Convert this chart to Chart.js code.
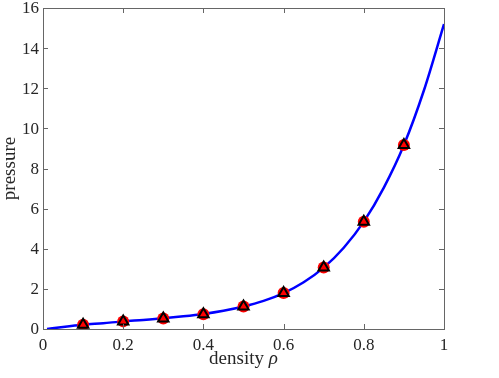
<!DOCTYPE html>
<html lang="en">
<head>
    <meta charset="UTF-8">
    <title>pressure vs density</title>
    <script src="https://cdn.jsdelivr.net/npm/chart.js"></script>
    <style>
        html, body { margin: 0; padding: 0; background: #fff; }
        #wrap { width: 499px; height: 378px; }
    </style>
</head>
<body>
    <div id="wrap"><canvas id="myChart"></canvas></div>

    <script>
        // curve
        const curveRho = [0.01, 0.05, 0.1, 0.15, 0.2, 0.25, 0.3, 0.35, 0.4, 0.45, 0.5, 0.55, 0.6, 0.65, 0.7, 0.75, 0.8, 0.85, 0.9, 0.95, 1.0];
        const curveP = [0.0, 0.1, 0.21, 0.29, 0.38, 0.45, 0.53, 0.63, 0.75, 0.91, 1.12, 1.4, 1.79, 2.33, 3.06, 4.05, 5.35, 7.05, 9.17, 11.9, 15.2];

        // sampled points (red circles + black triangles)
        const sampleRho = [0.1, 0.2, 0.3, 0.4, 0.5, 0.6, 0.7, 0.8, 0.9];
        const sampleP = [0.21, 0.38, 0.52, 0.74, 1.12, 1.79, 3.06, 5.35, 9.17];

        const xTicks = [0, 0.2, 0.4, 0.6, 0.8, 1];
        const yTicks = [0, 2, 4, 6, 8, 10, 12, 14, 16];

        const serif = '"Liberation Serif", "DejaVu Serif", serif';
        const textColor = '#262626';
        const axisColor = '#666';

        const toXY = (xs, ys) => xs.map((x, i) => ({ x: x, y: ys[i] }));

        // box round the plot, inward ticks on all four sides, tick labels and titles
        const boxPlugin = {
            id: 'box',
            afterDraw(chart) {
                const ctx = chart.ctx;
                const a = chart.chartArea;
                const sx = chart.scales.x, sy = chart.scales.y;
                ctx.save();
                ctx.strokeStyle = axisColor;
                ctx.lineWidth = 1;
                ctx.strokeRect(a.left + 0.5, a.top + 0.5, a.right - a.left, a.bottom - a.top);
                ctx.beginPath();
                xTicks.forEach(v => {
                    const px = Math.round(sx.getPixelForValue(v)) + 0.5;
                    ctx.moveTo(px, a.bottom); ctx.lineTo(px, a.bottom - 5);
                    ctx.moveTo(px, a.top); ctx.lineTo(px, a.top + 5);
                });
                yTicks.forEach(v => {
                    const py = Math.round(sy.getPixelForValue(v)) + 0.5;
                    ctx.moveTo(a.left, py); ctx.lineTo(a.left + 5, py);
                    ctx.moveTo(a.right, py); ctx.lineTo(a.right - 5, py);
                });
                ctx.stroke();

                // tick labels
                ctx.fillStyle = textColor;
                ctx.font = '17px ' + serif;
                ctx.textBaseline = 'middle';
                ctx.textAlign = 'center';
                xTicks.forEach(v => ctx.fillText(String(v), sx.getPixelForValue(v), a.bottom + 17));
                ctx.textAlign = 'right';
                yTicks.forEach(v => ctx.fillText(String(v), a.left - 4, sy.getPixelForValue(v) + 1));

                // axis titles
                ctx.textBaseline = 'alphabetic';
                ctx.font = '19px ' + serif;
                const w1 = ctx.measureText('density ').width;
                ctx.font = 'italic 19px ' + serif;
                const w2 = ctx.measureText('\u03c1').width;
                let x0 = (a.left + a.right) / 2 - (w1 + w2) / 2;
                ctx.font = '19px ' + serif;
                ctx.textAlign = 'left';
                ctx.fillText('density ', x0, 364);
                ctx.font = 'italic 19px ' + serif;
                ctx.fillText('\u03c1', x0 + w1, 364);

                ctx.translate(15, (a.top + a.bottom) / 2);
                ctx.rotate(-Math.PI / 2);
                ctx.textAlign = 'center';
                ctx.font = '19px ' + serif;
                ctx.fillText('pressure', 0, 0);
                ctx.restore();
            }
        };

        new Chart(document.getElementById('myChart'), {
            type: 'scatter',
            data: {
                datasets: [
                    {
                        label: 'triangles',
                        data: toXY(sampleRho, sampleP),
                        pointStyle: 'triangle',
                        pointRadius: 6,
                        backgroundColor: '#ff0000',
                        borderColor: '#000000',
                        borderWidth: 2,
                        order: 0
                    },
                    {
                        label: 'circles',
                        data: toXY(sampleRho, sampleP),
                        pointStyle: 'circle',
                        pointRadius: 6,
                        backgroundColor: '#ff0000',
                        borderColor: '#ff0000',
                        borderWidth: 0,
                        order: 1
                    },
                    {
                        type: 'line',
                        label: 'curve',
                        data: toXY(curveRho, curveP),
                        borderColor: '#0000ff',
                        borderWidth: 2.5,
                        pointRadius: 0,
                        cubicInterpolationMode: 'monotone',
                        fill: false,
                        order: 2
                    }
                ]
            },
            options: {
                responsive: true,
                maintainAspectRatio: false,
                animation: false,
                layout: { padding: { top: 0, right: 55, left: 0, bottom: 0 } },
                plugins: {
                    legend: { display: false },
                    tooltip: { enabled: false }
                },
                scales: {
                    x: {
                        type: 'linear',
                        min: 0,
                        max: 1,
                        afterFit(scale) { scale.height = 49; scale.paddingLeft = 0; scale.paddingRight = 0; },
                        grid: { display: false, drawTicks: false },
                        border: { display: false },
                        ticks: { display: false }
                    },
                    y: {
                        type: 'linear',
                        min: 0,
                        max: 16,
                        afterFit(scale) { scale.width = 43; scale.paddingTop = 7; scale.paddingBottom = 0; },
                        grid: { display: false, drawTicks: false },
                        border: { display: false },
                        ticks: { display: false }
                    }
                }
            },
            plugins: [boxPlugin]
        });
    </script>
</body>
</html>
